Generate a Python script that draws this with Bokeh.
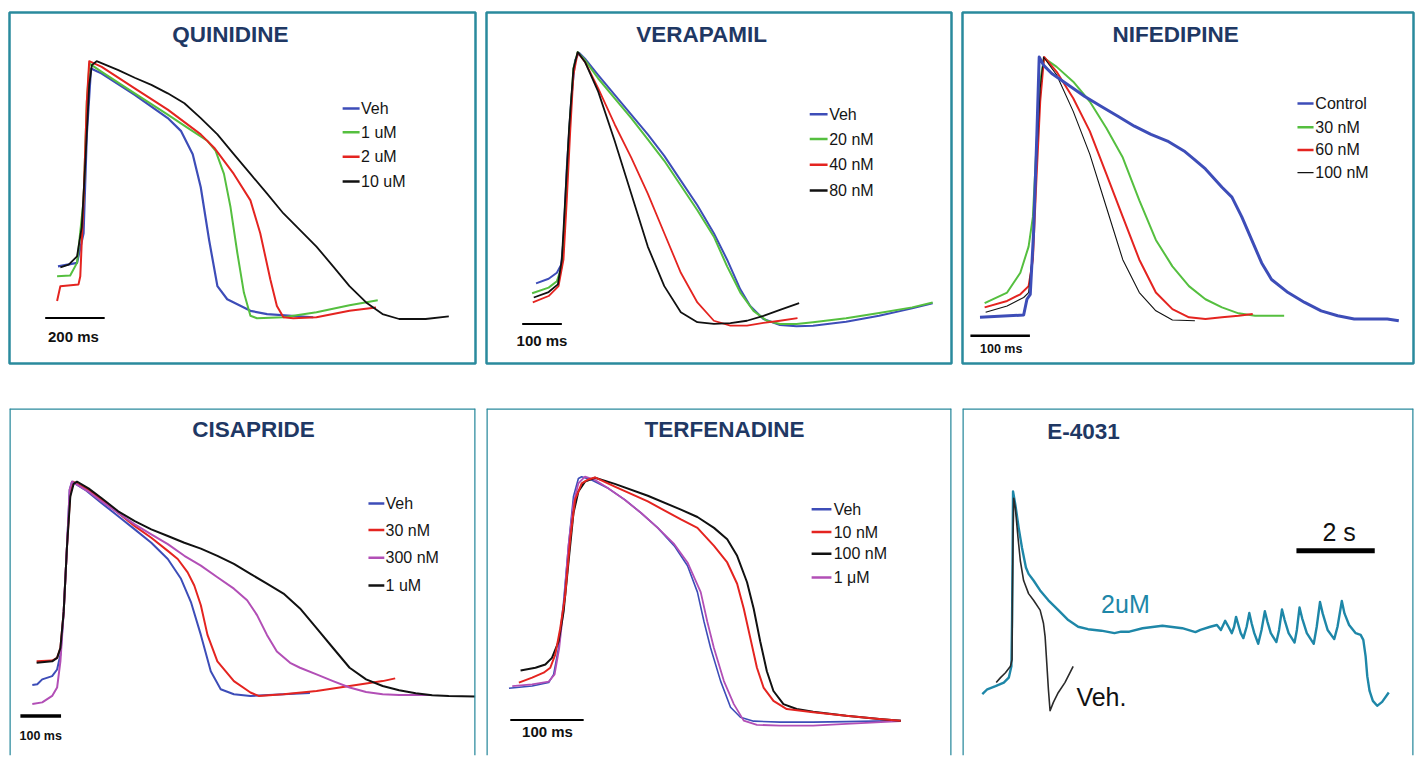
from bokeh.plotting import figure
from bokeh.layouts import row, column
from bokeh.models import Range1d, Label, Span
from bokeh.embed import file_html
from bokeh.resources import INLINE

# ======================= DATA (time in ms / s, membrane potential in mV) =======================
titles = ["QUINIDINE", "VERAPAMIL", "NIFEDIPINE", "CISAPRIDE", "TERFENADINE", "E-4031"]

# ---- QUINIDINE ----
quin_labels = ["Veh", "1 uM", "2 uM", "10 uM"]
quin_scale_ms = 200
quin_veh_t = [163, 227, 249, 260, 274, 310, 421, 532, 577, 616, 643, 671, 699, 732, 810, 866, 1021]
quin_veh_v = [-60.7, -59.3, -47.3, -7.3, 19.3, 17.3, 8.7, -0.7, -6, -15.3, -28.7, -50, -68.7, -74, -78.7, -80, -81.3]
quin_1um_t = [160, 204, 227, 249, 260, 269, 310, 421, 532, 599, 666, 693, 721, 743, 766, 788, 810, 832, 921, 1032, 1143, 1238]
quin_1um_v = [-64.7, -64.4, -59.3, -34, 6, 21.3, 18, 9.3, 0.7, -4.7, -10, -14, -23.3, -36.7, -55.3, -71.3, -80.7, -81.7, -81.3, -79.3, -76.4, -74.4]
quin_2um_t = [160, 171, 232, 238, 249, 260, 268, 310, 421, 532, 643, 688, 754, 810, 843, 877, 899, 921, 954, 1032, 1143, 1232]
quin_2um_v = [-74.7, -68.7, -68, -64.7, -34, 6, 22.3, 20, 11.3, 2.7, -7.3, -12.7, -23.3, -34, -47.3, -66, -76.7, -81.3, -81.7, -81.3, -78.7, -77.3]
quin_10um_t = [171, 199, 227, 243, 254, 268, 277, 293, 366, 421, 477, 532, 588, 643, 699, 754, 810, 866, 921, 977, 1032, 1088, 1143, 1199, 1254, 1310, 1399, 1477]
quin_10um_v = [-61.1, -60, -56.7, -44.7, -20.7, 12.7, 20.7, 22.3, 18.7, 15.6, 12.7, 9.3, 5.3, -0.7, -7.3, -15.3, -23.3, -31.3, -39.3, -46, -52.7, -60.7, -68.7, -75.3, -80, -82, -82, -80.9]

# ---- VERAPAMIL ----
vera_labels = ["Veh", "20 nM", "40 nM", "80 nM"]
vera_scale_ms = 100
vera_veh_t = [125, 156.7, 177.5, 188.3, 194.2, 202.5, 213.3, 223.3, 233.3, 248.3, 281.7, 323.3, 365, 406.7, 448.3, 490, 531.7, 573.3, 606.7, 640, 665, 698.3, 740, 781.7, 823.3, 906.7, 990, 1073.3, 1125]
vera_veh_v = [-67.6, -65.7, -63.3, -60, -50, -20.7, 6, 22.7, 25.7, 23.3, 16.7, 8.7, 0.7, -7.3, -16, -26, -36, -47.3, -58, -70, -76.7, -82, -84.4, -84.9, -84.7, -83.1, -80.7, -77.7, -75.6]
vera_20nm_t = [115, 156.7, 177.5, 190, 198.3, 208.3, 219.2, 230, 248.3, 281.7, 323.3, 365, 406.7, 448.3, 490, 531.7, 573.3, 606.7, 640, 673.3, 706.7, 740, 781.7, 823.3, 906.7, 990, 1073.3, 1125]
vera_20nm_v = [-71.6, -69.3, -66.7, -60.7, -40.7, -7.3, 19.3, 26, 22.7, 15.3, 7.3, -0.7, -9.3, -18, -28, -38, -48.7, -60.7, -71.3, -78.7, -82.7, -84, -84, -83.3, -81.7, -79.6, -77.3, -75.3]
vera_40nm_t = [116.7, 156.7, 181.7, 194.2, 202.5, 210.8, 219.2, 230, 248.3, 281.7, 323.3, 365, 406.7, 448.3, 490, 531.7, 573.3, 615, 656.7, 698.3, 740, 784.2]
vera_40nm_v = [-75.3, -72.7, -68.7, -58, -34, -7.3, 16.7, 25.7, 22, 11.3, -3.3, -16.7, -31.3, -47.3, -63.3, -75.3, -82.7, -84.7, -84.7, -83.6, -82.7, -81.6]
vera_80nm_t = [119.2, 156.7, 180, 190, 198.3, 208.3, 219.2, 230, 248.3, 281.7, 323.3, 365, 406.7, 448.3, 490, 531.7, 573.3, 615, 656.7, 698.3, 740, 788.3]
vera_80nm_v = [-73.3, -71.1, -68, -58, -34, -4.7, 19.3, 26, 22, 10, -10, -31.3, -52.7, -68.7, -79.3, -83.3, -84, -83.7, -82.7, -80.7, -78.3, -75.6]

# ---- NIFEDIPINE ----
nife_labels = ["Control", "30 nM", "60 nM", "100 nM"]
nife_scale_ms = 100
nife_ctl_t = [29.4, 102.8, 108.3, 113.9, 119.4, 125, 128.9, 136.1, 150, 177.8, 205.6, 233.4, 261.2, 288.9, 316.7, 344.5, 372.3, 389, 408.3, 436.1, 452.8, 469.4, 486.1, 502.8, 519.4, 547.2, 575, 602.8, 630.6, 658.3, 713.9, 733.3]
nife_ctl_v = [-81.3, -80.4, -74, -72, -47.3, -7.3, 24, 20.7, 17.3, 12.7, 8, 4, 0, -4, -7.3, -10, -14, -17.3, -21.3, -28.7, -32.7, -40.7, -50, -59.3, -66, -71.3, -75.3, -78.7, -80.7, -82, -82, -82.7]
nife_30nm_t = [37.2, 75, 97.2, 111.1, 118.3, 123.9, 129.4, 137.2, 158.3, 186.1, 213.9, 241.7, 269.4, 297.2, 325, 352.8, 380.6, 408.3, 436.1, 463.9, 491.7, 540.6]
nife_30nm_v = [-75.6, -71.3, -63.3, -52.7, -40.7, -14, 12.7, 23.6, 20, 14, 6, -4.7, -16.7, -34, -50, -60.7, -68.7, -74, -77.3, -79.7, -80.7, -80.7]
nife_60nm_t = [37.2, 75, 97.2, 111.1, 118.3, 123.9, 130.6, 137.2, 158.3, 186.1, 213.9, 241.7, 269.4, 297.2, 325, 352.8, 380.6, 408.3, 436.1, 463.9, 487.8]
nife_60nm_v = [-77.3, -74.7, -72, -68.7, -58, -27.3, 6, 24, 18, 7.3, -6, -23.3, -40.7, -58, -71.3, -78, -81.3, -82, -81.3, -80.7, -80]
nife_100nm_t = [38.9, 75, 102.8, 111.1, 118.3, 123.9, 130.6, 136.1, 158.3, 186.1, 213.9, 241.7, 269.4, 297.2, 325, 352.8, 390.6]
nife_100nm_v = [-79.3, -76.7, -73.3, -71.3, -54, -20.7, 11.3, 24, 16.7, 2, -15.3, -36.7, -58, -71.3, -78.7, -82.4, -82.7]

# ---- CISAPRIDE ----
cisa_labels = ["Veh", "30 nM", "300 nM", "1 uM"]
cisa_scale_ms = 100
cisa_veh_t = [56.1, 68.3, 80.5, 104.9, 117.1, 125.2, 133.3, 141.5, 148, 153.7, 186.2, 226.8, 267.5, 308.1, 348.8, 389.4, 421.9, 446.3, 470.7, 495.1, 519.5, 552, 592.7, 674, 739]
cisa_veh_v = [-71.5, -71.2, -69.2, -67.9, -65.2, -59.2, -41.9, -15.2, 7.5, 10.8, 7.5, 2.1, -3.2, -8.5, -13.9, -20.5, -28.5, -37.9, -51.2, -65.9, -73.2, -75.2, -75.9, -75.2, -74.7]
cisa_30nm_t = [66.7, 104.9, 117.1, 125.2, 133.3, 141.5, 149.6, 156.1, 194.3, 226.8, 267.5, 308.1, 348.8, 389.4, 413.8, 438.2, 454.5, 470.7, 487, 511.4, 552, 592.7, 613, 674, 755.3, 836.6, 917.9, 948.8]
cisa_30nm_v = [-61.9, -61.6, -60.5, -56.5, -41.9, -15.2, 6.1, 10.8, 7.5, 3.5, -1.9, -7.2, -11.9, -17.2, -20.5, -25.9, -31.2, -39.2, -51.2, -61.9, -69.9, -74.5, -75.9, -75.2, -73.9, -71.9, -69.9, -68.8]
cisa_300nm_t = [56.1, 80.5, 104.9, 117.1, 125.2, 133.3, 141.5, 148, 153.7, 194.3, 226.8, 267.5, 308.1, 348.8, 389.4, 430.1, 470.7, 511.4, 552, 584.5, 608.9, 633.3, 657.7, 690.2, 714.6, 755.3, 795.9, 836.6, 877.2, 917.9, 958.5, 1035.8]
cisa_300nm_v = [-79.2, -78.5, -75.9, -72.5, -61.9, -41.9, -15.2, 7.5, 10.8, 6.8, 2.8, -1.9, -6.5, -10.5, -14.5, -19.2, -23.2, -27.9, -32.5, -37.2, -43.2, -51.2, -57.9, -62.5, -64.5, -67.2, -69.9, -72.5, -74.3, -75.2, -75.5, -75.5]
cisa_1um_t = [66.7, 104.9, 117.1, 125.2, 133.3, 141.5, 149.6, 157.7, 165.9, 194.3, 226.8, 267.5, 308.1, 348.8, 389.4, 430.1, 470.7, 511.4, 552, 592.7, 633.3, 674, 714.6, 755.3, 795.9, 836.6, 877.2, 917.9, 958.5, 999.2, 1039.8, 1080.5, 1145.5]
cisa_1um_v = [-62.5, -61.9, -60.5, -56.5, -41.9, -15.2, 4.8, 9.9, 10.8, 8.1, 4.1, -1.2, -5.2, -8.5, -11.2, -13.9, -16.3, -19.2, -22.5, -26.5, -30.5, -34.5, -40.5, -48.5, -56.5, -64.5, -69.2, -71.9, -73.6, -74.8, -75.6, -75.9, -76.1]

# ---- TERFENADINE ----
terf_labels = ["Veh", "10 nM", "100 nM", "1 \u03bcM"]
terf_scale_ms = 100
terf_veh_t = [30.6, 62.2, 84.7, 91.5, 98.2, 105, 111.7, 118.5, 125.2, 129.7, 143.3, 165.8, 188.3, 210.8, 233.4, 255.9, 273.9, 287.4, 296.4, 305.4, 319, 332.5, 346, 364, 400, 445.1, 490.1, 564.5]
terf_veh_v = [-72.8, -71.9, -70.5, -67.2, -56.5, -37.9, -15.2, 4.8, 12.1, 12.8, 11.5, 8.1, 3.5, -1.9, -7.9, -15.2, -23.2, -33.9, -45.9, -56.5, -69.9, -80.5, -84.5, -86.1, -86.5, -86.5, -86.3, -85.9]
terf_10nm_t = [44.1, 62.2, 77.9, 86.9, 93.7, 100.5, 107.2, 114, 120.7, 129.7, 138.8, 147.8, 174.8, 219.8, 264.9, 287.4, 310, 328, 341.5, 350.5, 359.5, 368.5, 377.5, 391, 409.1, 445.1, 490.1, 535.2, 564.5]
terf_10nm_v = [-70.5, -68.5, -66.5, -64.5, -59.2, -48.5, -35.2, -12.5, 3.5, 10.1, 11.7, 12.5, 8.8, 2.8, -4.5, -7.9, -15.2, -21.9, -30.5, -40.5, -52.5, -64.5, -72.5, -77.9, -81.2, -82.5, -83.9, -85.2, -85.9]
terf_100nm_t = [46.4, 66.7, 80.2, 89.2, 98.2, 105, 111.7, 118.5, 125.2, 134.2, 147.8, 174.8, 219.8, 264.9, 287.4, 310, 328, 341.5, 355, 364, 373, 382, 391, 404.6, 422.6, 445.1, 490.1, 535.2, 564.5]
terf_100nm_v = [-65.6, -64.5, -63.2, -60.5, -53.9, -41.9, -21.9, -1.9, 6.8, 10.8, 12.4, 9.9, 5.1, -0.5, -3.5, -7.9, -12.5, -19.2, -29.9, -40.5, -53.9, -65.9, -73.9, -79.2, -81.2, -82.3, -83.9, -85.2, -85.9]
terf_1um_t = [35.1, 62.2, 84.7, 92.8, 99.1, 105, 111.7, 118.5, 125.2, 134.2, 147.8, 165.8, 188.3, 210.8, 233.4, 255.9, 273.9, 291.9, 300.9, 309.9, 323.5, 337, 350.5, 368.5, 400, 445.1, 490.1, 564.5]
terf_1um_v = [-71.9, -71.2, -70.1, -67.2, -56.5, -40.5, -15.2, 2.1, 10.1, 12.8, 11.5, 8.1, 3.5, -1.9, -7.9, -14.5, -21.9, -33.9, -45.9, -56.5, -69.9, -79.2, -85.9, -87.6, -87.9, -87.9, -87.2, -86.1]

# ---- E-4031 (time in s) ----
e4_labels = ["2uM", "Veh."]
e4_scale_s = 2
e4_2um_t = [0.506, 0.633, 0.844, 1.055, 1.182, 1.249, 1.266, 1.283, 1.291, 1.350, 1.435, 1.519, 1.620, 1.688, 1.815, 1.983, 2.194, 2.448, 2.701, 2.954,
            3.207, 3.545, 3.882, 4.051, 4.262, 4.6, 5.106, 5.613, 5.95,
            6.077, 6.330, 6.499, 6.600, 6.710, 6.794, 6.879, 6.938, 6.988, 7.047, 7.107, 7.174, 7.258, 7.326, 7.385, 7.453, 7.554, 7.638, 7.723, 7.790,
            7.875, 8.018, 8.086, 8.161, 8.229, 8.330, 8.482, 8.541, 8.609, 8.676, 8.795, 8.972, 9.048, 9.132, 9.200, 9.326, 9.495, 9.579, 9.689, 9.757,
            9.875, 10.044, 10.170, 10.238, 10.297, 10.339, 10.398, 10.482, 10.592, 10.719, 10.888]
e4_2um_v = [-75.2, -73.2, -71.9, -70.5, -68.5, -63.9, -45.2, -11.9, 6.8, 1.5, -7.9, -15.9, -23.9, -26.5, -29.2, -33.2, -37.2, -41.2, -45.2, -47.9,
            -48.9, -49.5, -50.5, -49.9, -49.9, -48.5, -47.5, -48.5, -50.1,
            -49.2, -47.9, -47.2, -49.2, -45.5, -47.9, -50.5, -47.9, -43.9, -47.2, -50.5, -52.5, -47.9, -42.3, -46.5, -50.5, -54.8, -49.2, -41.6, -45.9,
            -50.5, -54.1, -49.2, -40.9, -45.2, -50.5, -54.3, -49.2, -40.1, -44.5, -50.5, -54.8, -47.9, -37.9, -42.5, -49.2, -52.9, -47.9, -37.5, -42.5,
            -47.2, -50.5, -51.2, -53.2, -59.9, -67.9, -73.9, -77.9, -79.9, -78.3, -74.5]
e4_veh_t = [0.861, 0.971, 1.097, 1.224, 1.266, 1.274, 1.291, 1.308, 1.350, 1.418, 1.477, 1.561, 1.688, 1.815, 1.983, 2.068, 2.110, 2.152, 2.194, 2.237, 2.321, 2.448, 2.616, 2.827]
e4_veh_v = [-70.5, -68.5, -66.5, -63.9, -61.2, -38.5, -11.9, 4.1, 0.1, -11.9, -21.2, -29.2, -34.5, -37.2, -41.2, -46.5, -51.9, -62.5, -73.2, -81.9, -78.5, -74.5, -70.5, -63.9]

# ======================= STYLE =======================
BORDER = "#2a8a9d"
NAVY = "#1f3864"
BLUE = "#3d4db8"
GREEN = "#55bf3f"
RED = "#e42420"
BLACK = "#111111"
MAGENTA = "#b24fb6"
TEAL = "#1e87a8"
FONT = "Liberation Sans"


def panel(w, h, x_end, y_top, closed=True):
    p = figure(width=w, height=h, x_range=Range1d(0, x_end), y_range=Range1d(-100, y_top),
               output_backend="svg", toolbar_location=None, x_axis_type=None, y_axis_type=None,
               min_border=2)
    p.grid.grid_line_color = None
    p.background_fill_color = "white"
    p.border_fill_color = "white"
    if closed:
        p.outline_line_color = BORDER
        p.outline_line_width = 2.5
    else:
        p.outline_line_color = None
        for loc, dim in ((0, "height"), (x_end, "height"), (y_top, "width")):
            p.add_layout(Span(location=loc, dimension=dim, line_color=BORDER, line_width=2.5))
    return p


def title(p, text, x, y):
    p.add_layout(Label(x=x, y=y, text=text, text_font=FONT, text_font_size="22.5px",
                       text_font_style="bold", text_color=NAVY, text_align="center",
                       text_baseline="middle"))


def legend(p, x0, x1, xt, ys, labels, colors, widths, size="16px"):
    for y, lab, c, w in zip(ys, labels, colors, widths):
        p.line([x0, x1], [y, y], line_color=c, line_width=w)
        p.add_layout(Label(x=xt, y=y, text=lab, text_font=FONT, text_font_size=size,
                           text_color="#151515", text_baseline="middle"))


def scalebar(p, x0, length, y, lw, xt, yt, text, size):
    p.line([x0, x0 + length], [y, y], line_color="black", line_width=lw)
    p.add_layout(Label(x=xt, y=yt, text=text, text_font=FONT, text_font_size=size,
                       text_font_style="bold", text_color="#111111", text_align="center",
                       text_baseline="middle"))


# ---- Panel 1: QUINIDINE ----
p1 = panel(470, 355, 1566.7, 42)
title(p1, titles[0], 743, 33.2)
for t, v, c, w in ((quin_veh_t, quin_veh_v, BLUE, 2.2), (quin_1um_t, quin_1um_v, GREEN, 2),
                   (quin_2um_t, quin_2um_v, RED, 2), (quin_10um_t, quin_10um_v, BLACK, 1.8)):
    p1.line(t, v, line_color=c, line_width=w, line_join="round")
legend(p1, 1120, 1177, 1182, [3.2, -6.4, -16.4, -26.4], quin_labels, [BLUE, GREEN, RED, BLACK], [2.5] * 4)
scalebar(p1, 120, quin_scale_ms, -81.6, 2, 215, -89.2, f"{quin_scale_ms} ms", "15px")

# ---- Panel 2: VERAPAMIL ----
p2 = panel(469, 355, 1172.5, 42)
title(p2, titles[1], 542.5, 33.2)
for t, v, c, w in ((vera_veh_t, vera_veh_v, BLUE, 2), (vera_20nm_t, vera_20nm_v, GREEN, 2),
                   (vera_40nm_t, vera_40nm_v, RED, 1.8), (vera_80nm_t, vera_80nm_v, BLACK, 1.8)):
    p2.line(t, v, line_color=c, line_width=w, line_join="round")
legend(p2, 815, 860, 864, [0.8, -9.2, -19.6, -30], vera_labels, [BLUE, GREEN, RED, BLACK], [2.5] * 4)
scalebar(p2, 90, vera_scale_ms, -84, 2, 140, -90.8, f"{vera_scale_ms} ms", "15px")

# ---- Panel 3: NIFEDIPINE ----
p3 = panel(455, 355, 758, 42)
title(p3, titles[2], 358.3, 33.2)
for t, v, c, w in ((nife_30nm_t, nife_30nm_v, GREEN, 2), (nife_60nm_t, nife_60nm_v, RED, 2),
                   (nife_100nm_t, nife_100nm_v, BLACK, 1.1), (nife_ctl_t, nife_ctl_v, BLUE, 3)):
    p3.line(t, v, line_color=c, line_width=w, line_join="round")
legend(p3, 563, 590, 593, [5.2, -4.4, -13.6, -22.8], nife_labels, [BLUE, GREEN, RED, BLACK], [2.5, 2.5, 2.5, 1.3])
scalebar(p3, 13.3, nife_scale_ms, -88.8, 2.5, 65, -94, f"{nife_scale_ms} ms", "12.5px")

# ---- Panel 4: CISAPRIDE ----
p4 = panel(470, 351, 1146.3, 40.4, closed=False)
title(p4, titles[3], 600, 32)
for t, v, c, w in ((cisa_veh_t, cisa_veh_v, BLUE, 2), (cisa_30nm_t, cisa_30nm_v, RED, 2),
                   (cisa_300nm_t, cisa_300nm_v, MAGENTA, 2), (cisa_1um_t, cisa_1um_v, BLACK, 2)):
    p4.line(t, v, line_color=c, line_width=w, line_join="round")
legend(p4, 883, 922, 925, [2, -8.8, -20, -31.2], cisa_labels, [BLUE, RED, MAGENTA, BLACK], [2.5] * 4)
scalebar(p4, 26.8, cisa_scale_ms, -84, 3.5, 76.8, -92, f"{cisa_scale_ms} ms", "12.5px")

# ---- Panel 5: TERFENADINE ----
p5 = panel(469, 351, 633.6, 40.4, closed=False)
title(p5, titles[4], 324.2, 32)
for t, v, c, w in ((terf_veh_t, terf_veh_v, BLUE, 1.6), (terf_1um_t, terf_1um_v, MAGENTA, 1.8),
                   (terf_100nm_t, terf_100nm_v, BLACK, 2), (terf_10nm_t, terf_10nm_v, RED, 2)):
    p5.line(t, v, line_color=c, line_width=w, line_join="round")
legend(p5, 443, 470, 473, [-0.4, -9.6, -18.4, -28], terf_labels, [BLUE, RED, BLACK, MAGENTA], [2.5] * 4)
scalebar(p5, 32.4, terf_scale_ms, -85.6, 2, 83.1, -90.4, f"{terf_scale_ms} ms", "15px")

# ---- Panel 6: E-4031 ----
p6 = panel(455, 351, 11.52, 40.4, closed=False)
title(p6, titles[5], 3.09, 31.2)
p6.line(e4_2um_t, e4_2um_v, line_color=TEAL, line_width=2.4, line_join="round")
p6.line(e4_veh_t, e4_veh_v, line_color="#2a2a2a", line_width=1.6, line_join="round")
p6.add_layout(Label(x=3.54, y=-38.8, text=e4_labels[0], text_font=FONT, text_font_size="25px",
                    text_color=TEAL, text_baseline="middle"))
p6.add_layout(Label(x=2.91, y=-76.4, text=e4_labels[1], text_font=FONT, text_font_size="25px",
                    text_color="#111111", text_baseline="middle"))
p6.line([8.53, 8.53 + e4_scale_s], [-17.2, -17.2], line_color="black", line_width=5)
p6.add_layout(Label(x=9.62, y=-9.6, text=f"{e4_scale_s} s", text_font=FONT, text_font_size="25px",
                    text_color="#111111", text_align="center", text_baseline="middle"))

layout = column(row(p1, p2, p3, spacing=7), row(p4, p5, p6, spacing=7), spacing=41,
                margin=(10, 0, 0, 7))

open("out.html", "w").write(file_html(layout, INLINE))
